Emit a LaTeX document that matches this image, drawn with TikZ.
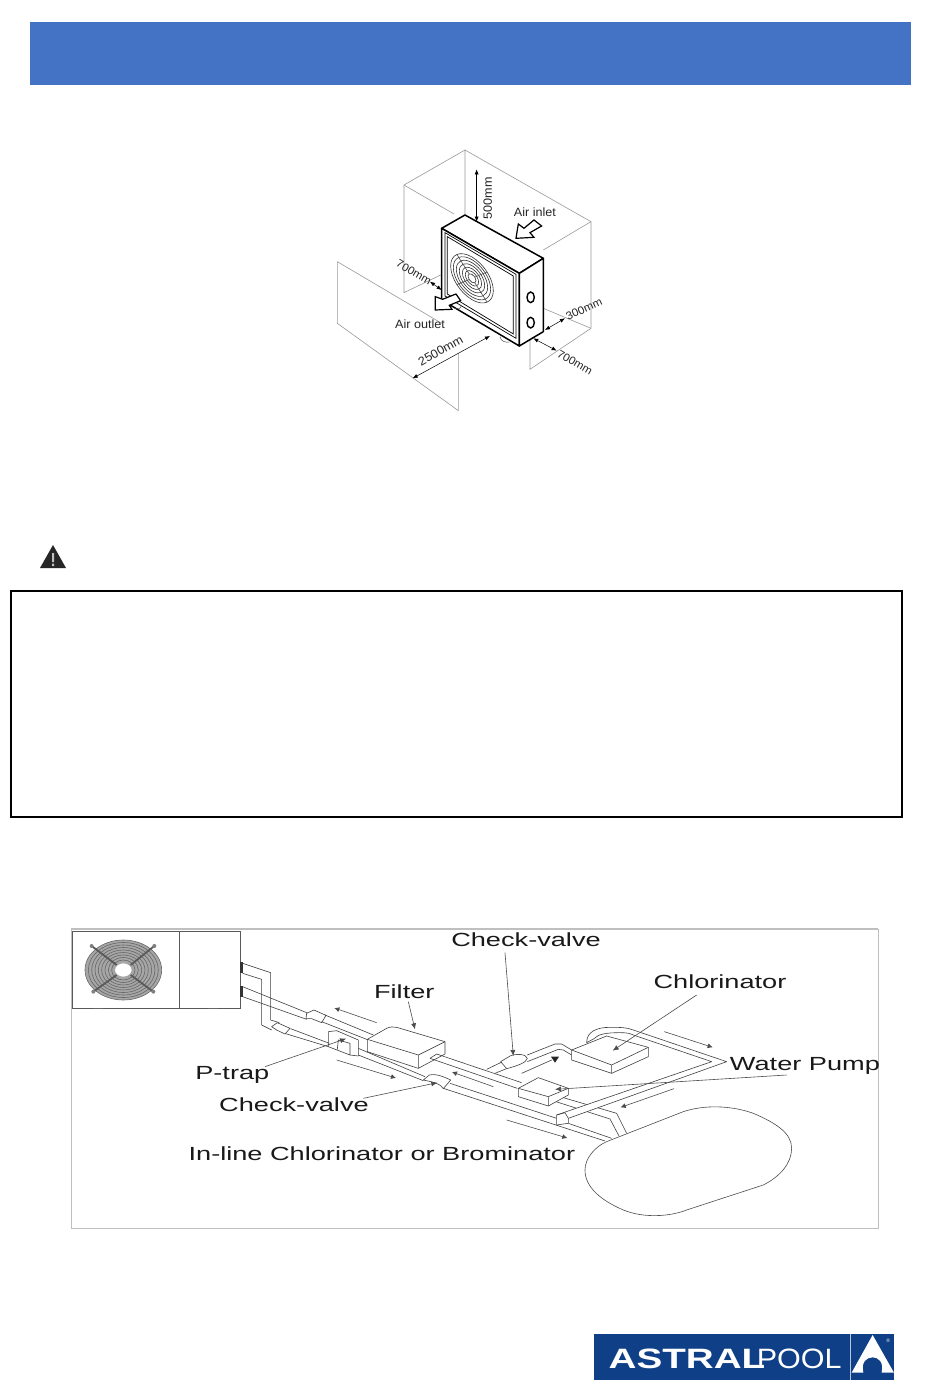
\documentclass[tikz,border=0pt]{standalone}
\usepackage{fontspec}
\setmainfont{Liberation Sans}
\usetikzlibrary{arrows.meta}
\definecolor{hdr}{HTML}{4472C4}
\definecolor{logoblue}{HTML}{0F3F86}
\tikzset{
  guide/.style={draw=black!40,line width=.6pt},
  unit/.style={draw=black,line width=1.5pt,line join=round},
  thin unit/.style={draw=black,line width=.7pt},
  dimarrow/.style={draw=black,line width=.5pt,{Latex[length=5pt,width=4pt]}-{Latex[length=5pt,width=4pt]}},
  smalllabel/.style={font=\fontsize{12}{13}\selectfont,text=black!85,inner sep=0pt,xscale=1.05,transform shape},
  tinylabel/.style={font=\fontsize{11}{12}\selectfont,text=black!85,inner sep=0pt,xscale=1.05,transform shape},
  biglabel/.style={font=\fontsize{19}{21}\selectfont,text=black!90,inner sep=0pt,xscale=1.43,transform shape},
  pipe/.style={draw=black!75,line width=.6pt,line join=round},
  leader/.style={draw=black!70,line width=.6pt,-{Latex[length=6pt,width=5pt]}},
  flow/.style={draw=black!70,line width=.6pt,-{Latex[length=5pt,width=5pt]}},
  airarrow/.style={draw=black,line width=1.2pt,fill=white,line join=miter}
}
\begin{document}
\begin{tikzpicture}[x=1pt,y=-1pt]
\useasboundingbox (0,0) rectangle (950,1387);
\fill[white] (0,0) rectangle (950,1387);
% header band
\fill[hdr] (30,22) rectangle (911,85);
% warning sign and box
\fill[black!85] (40,568) -- (53,545) -- (66,568) -- cycle;
\fill[black!25] (52,553) rectangle (54,562) (52,563.5) rectangle (54,566);
\draw[black,line width=2.2pt] (11,591) rectangle (902,817);

% ---------- clearance drawing ----------
\begin{scope}[shift={(330,140)},x=.3333pt,y=-.3333pt]
  \draw[guide] (405,225) -- (405,30) -- (222,135) -- (222,458) -- (332,405);
  \draw[guide] (222,135) -- (372,222);
  \draw[guide] (405,30) -- (783,245) -- (783,565) -- (600,688) -- (600,600);
  \draw[guide] (783,245) -- (640,330);
  \draw[guide] (783,565) -- (640,505);
  \draw[guide] (22,365) -- (22,550) -- (385,812) -- (385,640);
  \draw[guide] (22,365) -- (335,550);
  \draw[unit,fill=white] (405,225) -- (335,265) -- (568,400) -- (640,355) -- cycle;
  \draw[unit,fill=white] (335,265) -- (335,480) -- (568,618) -- (568,400) -- cycle;
  \draw[unit,fill=white] (568,400) -- (568,618) -- (640,575) -- (640,355) -- cycle;
  \draw[thin unit] (345,278) -- (558,403) -- (558,595) -- (345,468) -- cycle;
  \draw[thin unit] (352,290) -- (550,408) -- (550,582) -- (352,462) -- cycle;
  \begin{scope}[shift={(426,415)},cm={1,-.58,0,1,(0,0)}]
    \foreach \r in {64,56,47,38,29,20,12} \draw[black!80,line width=.6pt] (0,0) circle [radius=\r];
    \foreach \a in {45,135,225,315} \draw[black!70,line width=.6pt] (\a:12) -- (\a:64);
  \end{scope}
  \draw[black,line width=1.4pt] (602,472) circle [x radius=11,y radius=16];
  \draw[black,line width=1.4pt] (602,548) circle [x radius=11,y radius=16];
  \draw[black!70,line width=.5pt] (510,590) .. controls (512,605) and (528,608) .. (538,606);
  \draw[black!70,line width=.5pt] (375,505) .. controls (380,510) and (390,508) .. (394,498);
  \draw[airarrow] (558,295) -- (565,252) -- (582,265) -- (612,240) -- (635,258) -- (600,278) -- (612,292) -- cycle;
  \draw[airarrow] (316,510) -- (316,470) -- (338,478) -- (378,462) -- (392,482) -- (358,496) -- (366,508) -- cycle;
  \coordinate (d5a) at (440,88); \coordinate (d5b) at (440,245);
  \draw[dimarrow] (d5a) -- (d5b);
  \coordinate (d7a) at (300,425); \coordinate (d7b) at (335,450);
  \draw[dimarrow] (d7a) -- (d7b);
  \coordinate (d25a) at (248,715); \coordinate (d25b) at (480,588);
  \draw[dimarrow] (d25a) -- (d25b);
  \coordinate (d3a) at (645,570); \coordinate (d3b) at (705,535);
  \draw[dimarrow] (d3a) -- (d3b);
  \coordinate (d7c) at (610,595); \coordinate (d7d) at (680,632);
  \draw[dimarrow] (d7c) -- (d7d);
  \node[rotate=90,smalllabel] (t500) at (473,175) {500mm};
  \node[smalllabel] (tinlet) at (615,218) {Air inlet};
  \node[smalllabel] (toutlet) at (270,552) {Air outlet};
  \node[rotate=-30,tinylabel] (t700a) at (252,397) {700mm};
  \node[rotate=29,smalllabel] (t2500) at (332,632) {2500mm};
  \node[rotate=25,tinylabel] (t300) at (762,507) {300mm};
  \node[rotate=-30,tinylabel] (t700b) at (735,668) {700mm};
\end{scope}

% ---------- plumbing drawing ----------
\draw[black!25,line width=1.2pt] (71,929) -- (878,929);
\draw[black!25,line width=.8pt] (71,929) -- (71,1228) -- (878,1228) -- (878,929);

\begin{scope}[shift={(60,920)},x=.3333pt,y=-.3333pt]
  % heat pump
  \draw[black!65,line width=.7pt,fill=white] (37,35) rectangle (541,264);
  \draw[black!65,line width=.7pt] (358,35) -- (358,264);
  \draw[black!60,line width=.5pt] (100,266) -- (130,266) (445,266) -- (475,266);
  \fill[black!35,even odd rule] (190,150) circle [x radius=115,y radius=90] (190,150) circle [x radius=25,y radius=20];
  \foreach \r in {0,1,...,8}
    \draw[black!60,line width=.6pt] (190,150) circle [x radius={115-\r*10},y radius={90-\r*7.5}];
  \draw[black!65,line width=1.8pt] (95,78) -- (170,135) (283,78) -- (212,135) (100,215) -- (170,165) (280,215) -- (212,165);
  \fill[black!50] (95,78) circle [radius=6] (283,78) circle [radius=6] (100,215) circle [radius=6] (280,215) circle [radius=6];
  \draw[black!80,line width=3pt] (545,127) -- (545,160) (545,197) -- (545,232);
  \node[biglabel] (lfilter) at (1033,216) {Filter};
  \node[biglabel] (lptrap) at (517,465) {P-trap};
  \node[biglabel] (lcheck) at (702,553) {Check-valve};
  \node[biglabel,anchor=west] (linline) at (385,700) {In-line Chlorinator or Brominator};
\end{scope}

% pipes left of the pump, frame with origin at (240,980)
\begin{scope}[shift={(240,980)},x=.3333pt,y=-.3333pt]
  \draw[pipe] (8,-50) -- (92,-22) -- (92,120) -- (118,128);
  \draw[pipe] (8,-20) -- (65,-2) -- (65,135) -- (95,150);
  \draw[pipe] (8,20) -- (205,100);
  \draw[pipe] (8,50) -- (200,118);
  \draw[pipe,fill=white] (200,100) -- (222,90) -- (258,106) -- (245,128) -- (215,116) -- (198,116) -- cycle;
  \draw[pipe,fill=white] (95,140) -- (112,128) -- (150,145) -- (135,162) -- (110,150) -- cycle;
  \draw[pipe] (255,105) -- (400,165);
  \draw[pipe] (245,125) -- (385,180);
  \draw[pipe] (152,146) -- (268,190);
  \draw[pipe] (137,161) -- (265,200);
  % P-trap
  \draw[pipe] (265,155) -- (265,200) -- (330,225) -- (330,190) -- (295,180) -- (292,208);
  \draw[pipe] (265,155) -- (290,152) -- (355,180) -- (355,228) -- (330,225);
  \draw[pipe] (355,205) -- (555,290);
  \draw[pipe] (355,225) -- (550,302);
  % filter
  \draw[pipe,fill=white] (382,178) -- (440,145) .. controls (450,140) and (460,140) .. (470,142) -- (615,185) -- (615,222) -- (535,265) -- (382,215) -- cycle;
  \draw[pipe] (382,178) -- (535,225) -- (615,185) (535,225) -- (535,265);
  % past the filter
  \draw[pipe] (590,222) -- (845,308);
  \draw[pipe] (570,235) -- (832,325);
  \draw[pipe] (570,235) -- (590,222);
  \draw[pipe,fill=white] (550,300) -- (568,285) .. controls (590,280) and (615,292) .. (632,300) -- (610,326) .. controls (605,312) and (575,305) .. (550,300) -- cycle;
  \draw[pipe] (630,310) -- (950,415);
  \draw[pipe] (610,325) -- (1095,483);
  % flow arrows
  \coordinate (fa1) at (410,128); \coordinate (fa2) at (283,84);
  \draw[flow] (fa1) -- (fa2);
  \coordinate (fb1) at (290,240); \coordinate (fb2) at (468,294);
  \draw[flow] (fb1) -- (fb2);
  \coordinate (fc1) at (760,320); \coordinate (fc2) at (636,276);
  \draw[flow] (fc1) -- (fc2);
  % leaders
  \coordinate (lfs) at (505,65); \coordinate (lft) at (525,148);
  \draw[leader] (lfs) -- (lft);
  \coordinate (lps) at (75,260); \coordinate (lpt) at (318,176);
  \draw[leader] (lps) -- (lpt);
  \coordinate (lcs) at (370,355); \coordinate (lct) at (592,308);
  \draw[leader] (lcs) -- (lct);
\end{scope}

\begin{scope}[shift={(470,920)},x=.3333pt,y=-.3333pt]
  % main pipes
  \draw[pipe] (295,610) -- (425,655);
  % branch through the check-valve to the chlorinator
  \draw[pipe] (50,448) -- (98,425);
  \draw[pipe] (75,460) -- (112,445);
  \draw[pipe,fill=white] (92,425) -- (120,408) .. controls (140,400) and (168,402) .. (172,415) .. controls (170,428) and (140,438) .. (110,446) -- cycle;
  \draw[pipe] (172,405) -- (255,372) -- (275,372) -- (305,390);
  \draw[pipe] (172,425) -- (265,388) -- (280,390) -- (305,405);
  % chlorinator
  \draw[pipe,fill=white] (305,390) -- (410,348) -- (535,382) -- (535,410) -- (425,460) -- (305,420) -- cycle;
  \draw[pipe] (305,390) -- (425,435) -- (535,382) (425,435) -- (425,460);
  % pump outlet to the pool
  \draw[pipe] (270,530) -- (440,580) -- (470,640);
  \draw[pipe] (258,545) -- (420,597) -- (447,648);
  % return loop
  \draw[pipe,fill=white] (295,595) -- (770,425) -- (490,330) .. controls (470,322) and (450,322) .. (420,322) .. controls (380,322) and (350,335) .. (350,368) -- (372,356) .. controls (385,342) and (410,338) .. (450,338) .. controls (470,338) and (480,340) .. (490,345) -- (725,425) -- (260,585) -- (260,615) -- (295,610) -- cycle;
  \draw[pipe] (260,585) -- (285,578) (295,595) -- (285,578);
  % pump
  \draw[pipe,fill=white] (145,505) -- (205,473) -- (295,505) -- (295,525) -- (235,558) -- (145,530) -- cycle;
  \draw[pipe] (145,505) -- (235,530) -- (295,505) (235,530) -- (235,558);
  % pool
  \draw[draw=black!70,line width=.6pt,fill=white] (345,750) .. controls (345,715) and (375,680) .. (410,665) -- (640,575) .. controls (700,555) and (780,555) .. (850,580) .. controls (920,610) and (965,640) .. (965,685) .. controls (965,730) and (930,770) .. (880,795) -- (650,870) .. controls (600,890) and (520,895) .. (460,870) .. controls (390,840) and (345,800) .. (345,750) -- cycle;
  % flow arrows
  \coordinate (ga1) at (583,335); \coordinate (ga2) at (728,382);
  \draw[flow] (ga1) -- (ga2);
  \coordinate (gb1) at (155,460); \coordinate (gb2) at (245,420);
  \draw[pipe] (gb1) -- (gb2);
  \fill[black!85] (243,410) -- (267,410) -- (255,428) -- cycle;
  \coordinate (gc1) at (110,600); \coordinate (gc2) at (292,654);
  \draw[flow] (gc1) -- (gc2);
  \coordinate (gd1) at (612,506); \coordinate (gd2) at (452,562);
  \draw[flow] (gd1) -- (gd2);
  % labels and leaders
  \node[biglabel] (lcheckb) at (168,58) {Check-valve};
  \node[biglabel] (lchlor) at (750,186) {Chlorinator};
  \node[biglabel] (lpump) at (1005,438) {Water Pump};
  \coordinate (lbs) at (105,98); \coordinate (lbt) at (130,408);
  \draw[leader] (lbs) -- (lbt);
  \coordinate (lhs) at (680,225); \coordinate (lht) at (428,392);
  \draw[leader] (lhs) -- (lht);
  \coordinate (lws) at (950,465); \coordinate (lwt) at (255,508);
  \draw[leader] (lws) -- (lwt);
\end{scope}

% ---------- logo ----------
\fill[logoblue] (594,1334) rectangle (894,1380);
\begin{scope}[shift={(580,1320)},x=.3333pt,y=-.3333pt]
  \node[anchor=base west,text=white,inner sep=0pt,font=\fontsize{28}{30}\selectfont\bfseries,xscale=1.38,transform shape] (lga) at (85,146) {ASTRAL};
  \node[anchor=base west,text=white,inner sep=0pt,font=\fontsize{28}{30}\selectfont,xscale=1.09,transform shape] (lgb) at (530,146) {POOL};
  \draw[white!70!logoblue,line width=.5pt] (810,42) -- (810,180);
  \fill[white] (878,45) -- (942,158) -- (905,158) .. controls (912,125) and (895,112) .. (878,112) .. controls (860,112) and (843,125) .. (850,158) -- (815,158) -- cycle;
  \node[text=white,inner sep=0pt,font=\fontsize{5}{6}\selectfont] (lgr) at (925,62) {®};
\end{scope}
\end{tikzpicture}
\end{document}
